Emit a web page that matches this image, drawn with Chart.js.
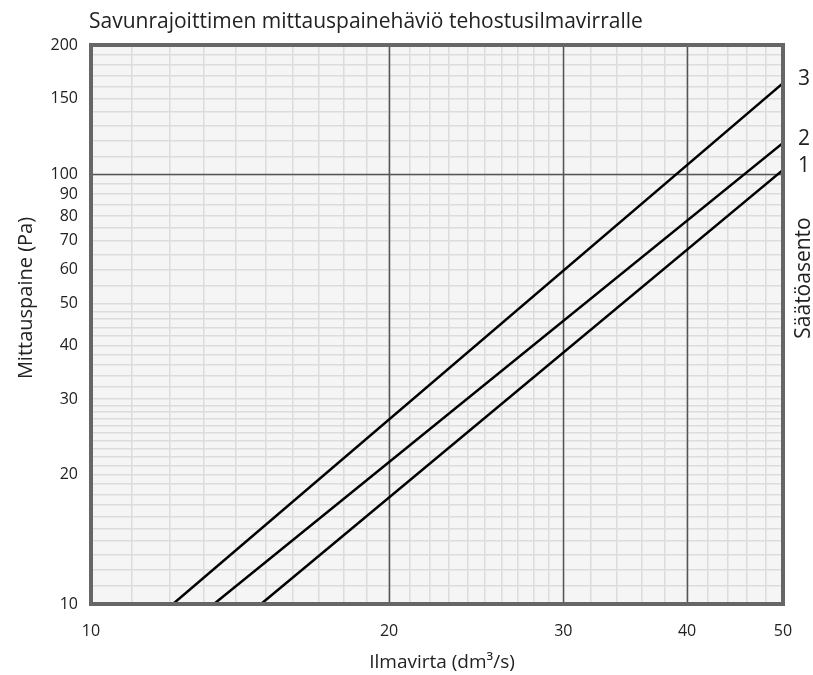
<!DOCTYPE html>
<html>
<head>
<meta charset="utf-8">
<script src="https://cdn.jsdelivr.net/npm/chart.js@4/dist/chart.umd.min.js"></script>
<style>
  body { margin: 0; background: #fff; }
  #wrap { width: 813px; height: 675px; }
</style>
</head>
<body>
<div id="wrap"><canvas id="chart"></canvas></div>
<script>
const FONT = '"Open Sans", Lato, sans-serif';

// data: end points of each straight (log-log) line
const settings = ['1', '2', '3'];
const flow1 = [14.85, 50];
const pres1 = [10, 102.4];
const flow2 = [13.31, 50];
const pres2 = [10, 118.3];
const flow3 = [12.1, 50];
const pres3 = [10, 163];

// axis ticks
const xLabels = [10, 20, 30, 40, 50];
const xMajor = [20, 30, 40];
const xGrid = [10, 11, 12, 13, 14, 15, 16, 17, 18, 19, 20, 21, 22, 23, 24, 25, 26, 27, 28, 29,
               30, 32, 34, 36, 38, 40, 42, 44, 46, 48, 50];
const yLabels = [10, 20, 30, 40, 50, 60, 70, 80, 90, 100, 150, 200];
const yMajor = [100];
const yGrid = [10, 11, 12, 13, 14, 15, 16, 17, 18, 19, 20, 21, 22, 23, 24, 25, 26, 27, 28, 29,
               30, 32, 34, 36, 38, 40, 42, 44, 46, 48, 50, 55, 60, 65, 70, 75, 80, 85, 90, 95,
               100, 110, 120, 130, 140, 150, 160, 170, 180, 190, 200];

const toPoints = (xs, ys) => xs.map((x, i) => ({ x: x, y: ys[i] }));

const lineStyle = {
    borderColor: '#000',
    borderWidth: 2.5,
    pointRadius: 0,
    showLine: true,
    fill: false
};

const drawText = (ctx, text, x, y, size, angle) => {
    ctx.save();
    ctx.fillStyle = '#222';
    ctx.font = size + 'px ' + FONT;
    ctx.textAlign = 'center';
    ctx.textBaseline = 'middle';
    ctx.translate(x, y);
    if (angle) ctx.rotate(angle);
    ctx.fillText(text, 0, 0);
    ctx.restore();
};

// background, major grid lines, frame and the texts
const framePlugin = {
    id: 'frame',
    beforeDraw(chart) {
        const { ctx, chartArea: a } = chart;
        ctx.save();
        ctx.fillStyle = '#f5f5f5';
        ctx.fillRect(a.left, a.top, a.right - a.left, a.bottom - a.top);
        ctx.restore();
    },
    beforeDatasetsDraw(chart) {
        const { ctx, chartArea: a, scales } = chart;
        ctx.save();
        ctx.strokeStyle = '#555';
        ctx.lineWidth = 1.5;
        xMajor.forEach(v => {
            const px = Math.round(scales.x.getPixelForValue(v)) + 0.5;
            ctx.beginPath();
            ctx.moveTo(px, a.top);
            ctx.lineTo(px, a.bottom);
            ctx.stroke();
        });
        yMajor.forEach(v => {
            const py = Math.round(scales.y.getPixelForValue(v)) + 0.5;
            ctx.beginPath();
            ctx.moveTo(a.left, py);
            ctx.lineTo(a.right, py);
            ctx.stroke();
        });
        ctx.restore();
    },
    afterDatasetsDraw(chart) {
        const { ctx, chartArea: a, scales } = chart;
        ctx.save();
        ctx.strokeStyle = '#666';
        ctx.lineWidth = 4;
        ctx.strokeRect(a.left, a.top, a.right - a.left, a.bottom - a.top);
        ctx.restore();

        // setting numbers at the right end of each line
        const ends = [pres1[1], pres2[1], pres3[1]];
        settings.forEach((s, i) => {
            drawText(ctx, s, a.right + 21, scales.y.getPixelForValue(ends[i]) - 4, 21);
        });
        drawText(ctx, 'Säätöasento', a.right + 21, 278, 21, -Math.PI / 2);
        drawText(ctx, 'Mittauspaine (Pa)', 26, 298, 20, -Math.PI / 2);
        drawText(ctx, 'Ilmavirta (dm³/s)', 442, 663, 19);

        ctx.save();
        ctx.fillStyle = '#222';
        ctx.font = '21px ' + FONT;
        ctx.textAlign = 'left';
        ctx.textBaseline = 'middle';
        ctx.fillText('Savunrajoittimen mittauspainehäviö tehostusilmavirralle', 89, 22);
        ctx.restore();
    }
};

const ctx = document.getElementById('chart').getContext('2d');
const chart = new Chart(ctx, {
    type: 'scatter',
    data: {
        datasets: [
            Object.assign({ label: settings[0], data: toPoints(flow1, pres1) }, lineStyle),
            Object.assign({ label: settings[1], data: toPoints(flow2, pres2) }, lineStyle),
            Object.assign({ label: settings[2], data: toPoints(flow3, pres3) }, lineStyle)
        ]
    },
    options: {
        responsive: true,
        maintainAspectRatio: false,
        animation: false,
        layout: {
            padding: { top: 45, right: 30, bottom: 0, left: 0 }
        },
        plugins: {
            legend: { display: false },
            tooltip: { enabled: false }
        },
        scales: {
            x: {
                type: 'logarithmic',
                min: 10,
                max: 50,
                afterBuildTicks: axis => { axis.ticks = xGrid.map(v => ({ value: v })); },
                afterFit: axis => { axis.height = 71; },
                border: { display: false },
                grid: {
                    drawTicks: false,
                    color: '#dcdcdc',
                    lineWidth: 1.5
                },
                ticks: {
                    autoSkip: false,
                    maxRotation: 0,
                    padding: 18,
                    color: '#222',
                    font: { family: FONT, size: 16 },
                    callback: v => xLabels.includes(v) ? String(v) : ''
                }
            },
            y: {
                type: 'logarithmic',
                min: 10,
                max: 200,
                afterBuildTicks: axis => { axis.ticks = yGrid.map(v => ({ value: v })); },
                afterFit: axis => { axis.width = 91; },
                border: { display: false },
                grid: {
                    drawTicks: false,
                    color: '#dcdcdc',
                    lineWidth: 1.5
                },
                ticks: {
                    autoSkip: false,
                    padding: 13,
                    color: '#222',
                    font: { family: FONT, size: 16 },
                    callback: v => yLabels.includes(v) ? String(v) : ''
                }
            }
        }
    },
    plugins: [framePlugin]
});
</script>
</body>
</html>
